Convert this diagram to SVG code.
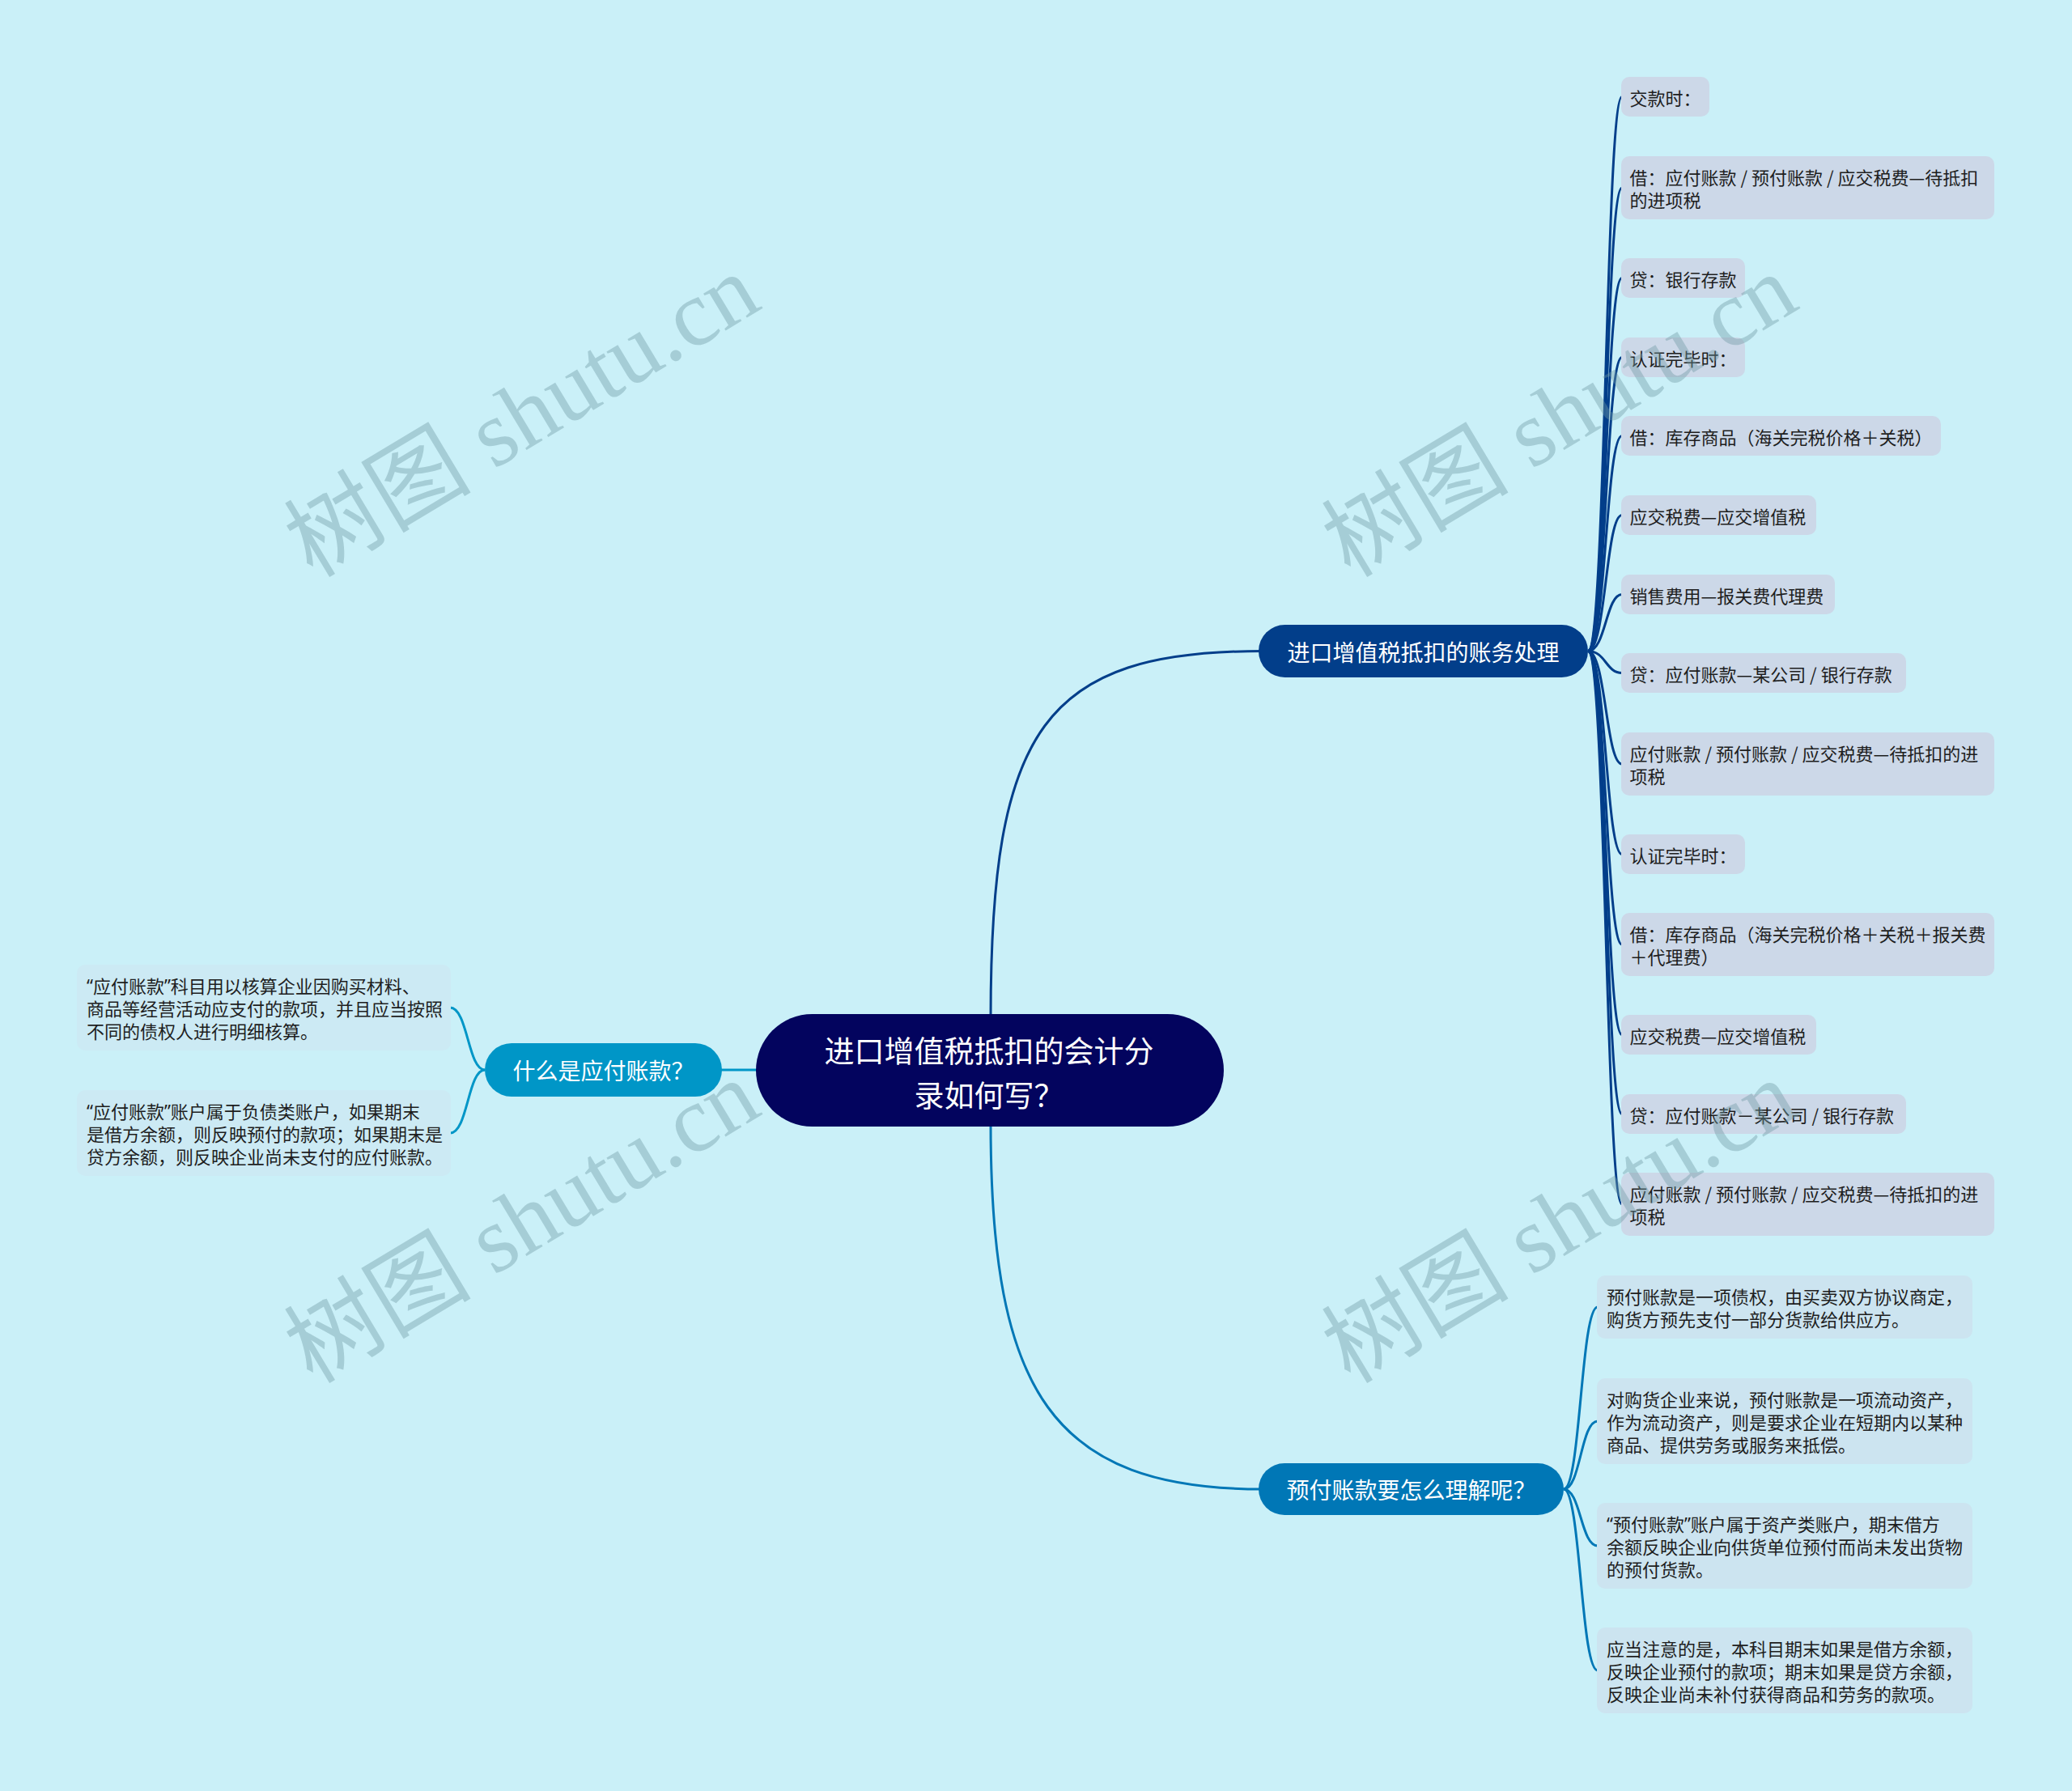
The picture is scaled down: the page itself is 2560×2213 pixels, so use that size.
<svg xmlns="http://www.w3.org/2000/svg" width="2560" height="2213" viewBox="0 0 2560 2213">
<defs>
<style>
.bg{fill:#caf0f8}
text{font-family:"Noto Sans CJK SC","Noto Sans",sans-serif}
.q{font-family:"Noto Sans","Liberation Sans",sans-serif}
.l1{fill:#ccd8e8}
.l2{fill:#cce4f0}
.l3{fill:#cceaf4}
.lt{font-size:22px;fill:#1e1e1e;dominant-baseline:central}
.nt{font-size:28px;fill:#ffffff;text-anchor:middle;dominant-baseline:central}
.rt{font-size:37px;fill:#ffffff;text-anchor:middle;dominant-baseline:central}
.c1{fill:none;stroke:#023e8a;stroke-width:3}
.c2{fill:none;stroke:#0077b6;stroke-width:3}
.c3{fill:none;stroke:#0096c7;stroke-width:3}
.wm{font-family:"Liberation Serif","Noto Sans CJK SC",serif;font-size:116px;fill:#6e98a3;fill-opacity:0.4;text-anchor:middle;dominant-baseline:central}
</style>
</defs>
<rect class="bg" x="0" y="0" width="2560" height="2213"/>

<g id="connectors">
<path class="c1" d="M1224,1258 C1224,900 1290,804.5 1560,804.5"/>
<path class="c2" d="M1224,1388 C1224,1720 1300,1840 1560,1840"/>
<path class="c3" d="M940,1322 L890,1322"/>
<path class="c1" d="M1962,804.5 C1984,804.5 1984,119.5 2004,119.5"/>
<path class="c1" d="M1962,804.5 C1984,804.5 1984,232 2004,232"/>
<path class="c1" d="M1962,804.5 C1984,804.5 1984,343.5 2004,343.5"/>
<path class="c1" d="M1962,804.5 C1984,804.5 1984,441.5 2004,441.5"/>
<path class="c1" d="M1962,804.5 C1984,804.5 1984,538.5 2004,538.5"/>
<path class="c1" d="M1962,804.5 C1984,804.5 1984,636.5 2004,636.5"/>
<path class="c1" d="M1962,804.5 C1984,804.5 1984,734.5 2004,734.5"/>
<path class="c1" d="M1962,804.5 C1984,804.5 1984,831.5 2004,831.5"/>
<path class="c1" d="M1962,804.5 C1984,804.5 1984,944 2004,944"/>
<path class="c1" d="M1962,804.5 C1984,804.5 1984,1055.5 2004,1055.5"/>
<path class="c1" d="M1962,804.5 C1984,804.5 1984,1167 2004,1167"/>
<path class="c1" d="M1962,804.5 C1984,804.5 1984,1278.5 2004,1278.5"/>
<path class="c1" d="M1962,804.5 C1984,804.5 1984,1376.5 2004,1376.5"/>
<path class="c1" d="M1962,804.5 C1984,804.5 1984,1488 2004,1488"/>
<path class="c2" d="M1932,1840 C1953,1840 1953,1615 1974,1615"/>
<path class="c2" d="M1932,1840 C1953,1840 1953,1756 1974,1756"/>
<path class="c2" d="M1932,1840 C1953,1840 1953,1910 1974,1910"/>
<path class="c2" d="M1932,1840 C1953,1840 1953,2064 1974,2064"/>
<path class="c3" d="M599,1322 C578,1322 578,1245 556,1245"/>
<path class="c3" d="M599,1322 C578,1322 578,1400 556,1400"/>
</g>

<g id="root">
<rect x="934" y="1253" width="578" height="139" rx="69.5" fill="#03045e"/>
<text class="rt" x="1222" y="1297">进口增值税抵扣的会计分</text>
<text class="rt" x="1222" y="1352">录如何写？</text>
</g>

<g id="b1">
<rect x="1555" y="772" width="407" height="65" rx="32.5" fill="#023e8a"/>
<text class="nt" x="1758.5" y="804.5">进口增值税抵扣的账务处理</text>
</g>
<g id="b2">
<rect x="1555" y="1808" width="377" height="64" rx="32" fill="#0077b6"/>
<text class="nt" x="1743.5" y="1840">预付账款要怎么理解呢？</text>
</g>
<g id="b3">
<rect x="599" y="1289" width="293" height="66" rx="33" fill="#0096c7"/>
<text class="nt" x="745.5" y="1322">什么是应付账款？</text>
</g>

<g id="leaf1-1"><rect class="l1" x="2003" y="95" width="109" height="49" rx="10"/><text class="lt" x="2013.5" y="119.5">交款时：</text></g>
<g id="leaf1-2"><rect class="l1" x="2003" y="193" width="461" height="78" rx="10"/><text class="lt"><tspan x="2013.5" y="218">借：应付账款 / 预付账款 / 应交税费—待抵扣</tspan><tspan x="2013.5" y="246">的进项税</tspan></text></g>
<g id="leaf1-3"><rect class="l1" x="2003" y="319" width="153" height="49" rx="10"/><text class="lt" x="2013.5" y="343.5">贷：银行存款</text></g>
<g id="leaf1-4"><rect class="l1" x="2003" y="417" width="153" height="49" rx="10"/><text class="lt" x="2013.5" y="441.5">认证完毕时：</text></g>
<g id="leaf1-5"><rect class="l1" x="2003" y="514" width="395" height="49" rx="10"/><text class="lt" x="2013.5" y="538.5">借：库存商品（海关完税价格＋关税）</text></g>
<g id="leaf1-6"><rect class="l1" x="2003" y="612" width="241" height="49" rx="10"/><text class="lt" x="2013.5" y="636.5">应交税费—应交增值税</text></g>
<g id="leaf1-7"><rect class="l1" x="2003" y="710" width="264" height="49" rx="10"/><text class="lt" x="2013.5" y="734.5">销售费用—报关费代理费</text></g>
<g id="leaf1-8"><rect class="l1" x="2003" y="807" width="352" height="49" rx="10"/><text class="lt" x="2013.5" y="831.5">贷：应付账款—某公司 / 银行存款</text></g>
<g id="leaf1-9"><rect class="l1" x="2003" y="905" width="461" height="78" rx="10"/><text class="lt"><tspan x="2013.5" y="930">应付账款 / 预付账款 / 应交税费—待抵扣的进</tspan><tspan x="2013.5" y="958">项税</tspan></text></g>
<g id="leaf1-10"><rect class="l1" x="2003" y="1031" width="153" height="49" rx="10"/><text class="lt" x="2013.5" y="1055.5">认证完毕时：</text></g>
<g id="leaf1-11"><rect class="l1" x="2003" y="1128" width="461" height="78" rx="10"/><text class="lt"><tspan x="2013.5" y="1153">借：库存商品（海关完税价格＋关税＋报关费</tspan><tspan x="2013.5" y="1181">＋代理费）</tspan></text></g>
<g id="leaf1-12"><rect class="l1" x="2003" y="1254" width="241" height="49" rx="10"/><text class="lt" x="2013.5" y="1278.5">应交税费—应交增值税</text></g>
<g id="leaf1-13"><rect class="l1" x="2003" y="1352" width="352" height="49" rx="10"/><text class="lt" x="2013.5" y="1376.5">贷：应付账款－某公司 / 银行存款</text></g>
<g id="leaf1-14"><rect class="l1" x="2003" y="1449" width="461" height="78" rx="10"/><text class="lt"><tspan x="2013.5" y="1474">应付账款 / 预付账款 / 应交税费—待抵扣的进</tspan><tspan x="2013.5" y="1502">项税</tspan></text></g>

<g id="leaf2-1"><rect class="l2" x="1973" y="1576" width="464" height="78" rx="10"/><text class="lt"><tspan x="1985" y="1601">预付账款是一项债权，由买卖双方协议商定，</tspan><tspan x="1985" y="1629">购货方预先支付一部分货款给供应方。</tspan></text></g>
<g id="leaf2-2"><rect class="l2" x="1973" y="1703" width="464" height="106" rx="10"/><text class="lt"><tspan x="1985" y="1728">对购货企业来说，预付账款是一项流动资产，</tspan><tspan x="1985" y="1756">作为流动资产，则是要求企业在短期内以某种</tspan><tspan x="1985" y="1784">商品、提供劳务或服务来抵偿。</tspan></text></g>
<g id="leaf2-3"><rect class="l2" x="1973" y="1857" width="464" height="106" rx="10"/><text class="lt"><tspan x="1985" y="1882"><tspan class="q">“</tspan>预付账款<tspan class="q">”</tspan>账户属于资产类账户，期末借方</tspan><tspan x="1985" y="1910">余额反映企业向供货单位预付而尚未发出货物</tspan><tspan x="1985" y="1938">的预付货款。</tspan></text></g>
<g id="leaf2-4"><rect class="l2" x="1973" y="2011" width="464" height="106" rx="10"/><text class="lt"><tspan x="1985" y="2036">应当注意的是，本科目期末如果是借方余额，</tspan><tspan x="1985" y="2064">反映企业预付的款项；期末如果是贷方余额，</tspan><tspan x="1985" y="2092">反映企业尚未补付获得商品和劳务的款项。</tspan></text></g>

<g id="leaf3-1"><rect class="l3" x="95" y="1192" width="462" height="106" rx="10"/><text class="lt"><tspan x="107" y="1217"><tspan class="q">“</tspan>应付账款<tspan class="q">”</tspan>科目用以核算企业因购买材料、</tspan><tspan x="107" y="1245">商品等经营活动应支付的款项，并且应当按照</tspan><tspan x="107" y="1273">不同的债权人进行明细核算。</tspan></text></g>
<g id="leaf3-2"><rect class="l3" x="95" y="1347" width="462" height="106" rx="10"/><text class="lt"><tspan x="107" y="1372"><tspan class="q">“</tspan>应付账款<tspan class="q">”</tspan>账户属于负债类账户，如果期末</tspan><tspan x="107" y="1400">是借方余额，则反映预付的款项；如果期末是</tspan><tspan x="107" y="1428">贷方余额，则反映企业尚未支付的应付账款。</tspan></text></g>

<g id="watermark">
<text class="wm" transform="translate(645,514) rotate(-31)">树图 shutu.cn</text>
<text class="wm" transform="translate(1927,514) rotate(-31)">树图 shutu.cn</text>
<text class="wm" transform="translate(645,1510) rotate(-31)">树图 shutu.cn</text>
<text class="wm" transform="translate(1927,1510) rotate(-31)">树图 shutu.cn</text>
</g>
</svg>
